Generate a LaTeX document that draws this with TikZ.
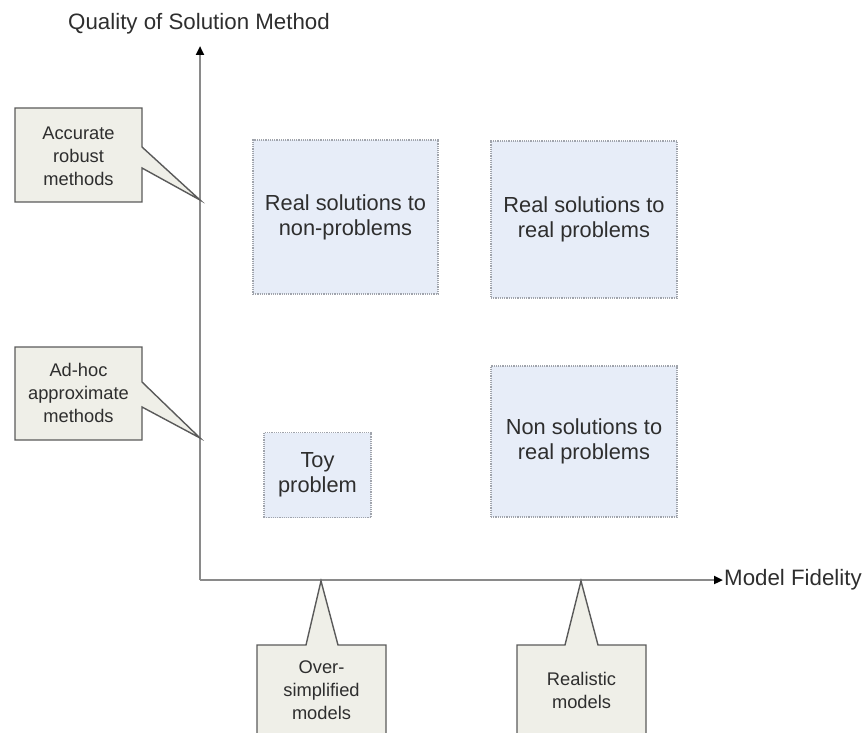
\documentclass[tikz,border=0pt]{standalone}
\usepackage{fontspec}
\setmainfont{Liberation Sans}
\usetikzlibrary{arrows.meta}
\definecolor{boxfill}{HTML}{E7EDF8}
\definecolor{boxline}{HTML}{A0A4AC}
\definecolor{callfill}{HTML}{EFEFE8}
\definecolor{callline}{HTML}{5A5A5A}
\definecolor{axisgray}{HTML}{8A8A8A}
\definecolor{txt}{HTML}{2E2E2E}
\tikzset{
  qbox/.style={draw=boxline, densely dotted, line width=1.2pt, fill=boxfill, align=center,
    text=txt, font=\fontsize{21.8}{25}\selectfont, inner sep=0pt},
  callout/.style={draw=callline, line width=1.4pt, fill=callfill, line join=miter},
  calltext/.style={align=center, text=txt, font=\fontsize{18.3}{23}\selectfont, inner sep=0pt},
  axis/.style={draw=axisgray, line width=2.5pt, -{Triangle[length=9pt,width=8pt,color=black]}},
  lbl/.style={text=txt, font=\fontsize{22.3}{25}\selectfont, inner sep=0pt}
}
\begin{document}
\begin{tikzpicture}[x=1pt,y=-1pt]
\useasboundingbox (0,0) rectangle (863,733);
\clip (0,0) rectangle (863,733);
% axes
\coordinate (O) at (200,580);
\coordinate (ytop) at (200,46);
\coordinate (xend) at (723,580);
\draw[axis] (O) -- (ytop);
\draw[axis] (O) -- (xend);
\node[lbl, anchor=west] (xl) at (724,580) {Model Fidelity};
\node[lbl] (yl) at (199,24) {Quality of Solution Method};
% quadrant boxes
\node[qbox, minimum width=185pt, minimum height=154pt] (rsnp) at (345.5,217) {Real solutions to\\non-problems};
\node[qbox, minimum width=186pt, minimum height=157pt] (rsrp) at (584,219.5) {Real solutions to\\real problems};
\node[qbox, minimum width=186pt, minimum height=151pt] (nsrp) at (584,441.5) {Non solutions to\\real problems};
\node[qbox, minimum width=107pt, minimum height=85pt] (toy) at (317.5,475) {Toy\\problem};
% callouts
\coordinate (t1) at (200,200);
\coordinate (t2) at (200,438);
\coordinate (t3) at (321,581);
\coordinate (t4) at (581,581);
\draw[callout] (15,108) -- (142,108) -- (142,147) -- (t1) -- (142,168) -- (142,202) -- (15,202) -- cycle;
\node[calltext] (c1) at (78.5,156) {Accurate\\robust\\methods};
\draw[callout] (15,347) -- (142,347) -- (142,382) -- (t2) -- (142,407) -- (142,440) -- (15,440) -- cycle;
\node[calltext] (c2) at (78.5,393) {Ad-hoc\\approximate\\methods};
\draw[callout] (257,645) -- (306,645) -- (t3) -- (338,645) -- (386,645) -- (386,760) -- (257,760) -- cycle;
\node[calltext] (c3) at (321.5,690) {Over-\\simplified\\models};
\draw[callout] (517,645) -- (565,645) -- (t4) -- (598,645) -- (646,645) -- (646,760) -- (517,760) -- cycle;
\node[calltext] (c4) at (581.5,690) {Realistic\\models};
\end{tikzpicture}
\end{document}
